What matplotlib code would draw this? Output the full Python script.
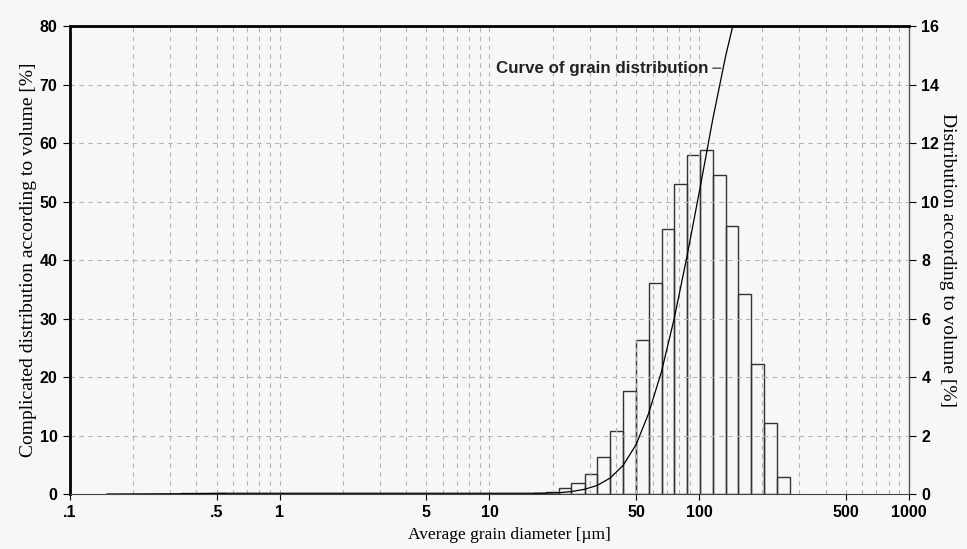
import matplotlib
matplotlib.use("Agg")
import matplotlib.pyplot as plt
import numpy as np

# class edges [um] and volume fractions [%]
fine_edges = [0.15, 0.2, 0.26, 0.34, 0.45, 0.55]
fine_vol = [0.02, 0.02, 0.02, 0.03, 0.05]

main_edges = [16.2, 18.6, 21.5, 24.6, 28.4, 32.7, 37.7, 43.4, 50.0, 57.3, 66.1,
              76.0, 87.4, 100.8, 115.9, 133.7, 153.8, 177.4, 203.9, 235.1, 270.4]
main_vol = [0.03, 0.07, 0.2, 0.38, 0.68, 1.27, 2.17, 3.52, 5.27, 7.22, 9.07,
            10.61, 11.6, 11.76, 10.92, 9.15, 6.85, 4.46, 2.43, 0.58]

xticks = [0.1, 0.5, 1, 5, 10, 50, 100, 500, 1000]
xticklabels = [".1", ".5", "1", "5", "10", "50", "100", "500", "1000"]

bg = "#f7f7f7"
tickfont = dict(family="Liberation Sans", weight="bold", size=11.5)
labelfont = dict(family="Liberation Serif", size=14)

fig = plt.figure(figsize=(9.67, 5.49), dpi=100, facecolor=bg)
ax = fig.add_axes([0.0724, 0.1, 0.8676, 0.8526])
ax2 = ax.twinx()

# bars on right axis
for edges, vol in [(fine_edges, fine_vol), (main_edges, main_vol)]:
    e = np.array(edges)
    ax2.bar(e[:-1], vol, width=np.diff(e), align="edge", fill=False,
            edgecolor="#333333", linewidth=1.0)

# cumulative curve on left axis
fine_cum = np.cumsum(fine_vol)
cum_x = np.concatenate([fine_edges, main_edges])
cum_y = np.concatenate([[0], fine_cum, fine_cum[-1:], fine_cum[-1] + np.cumsum(main_vol)])
ax.plot(cum_x, cum_y, color="black", lw=0.9)

ax.set_zorder(ax2.get_zorder() + 1)
ax.patch.set_visible(False)

ax.set_xscale("log")
ax.set_xlim(0.1, 1000)
ax.set_ylim(0, 80)
ax2.set_ylim(0, 16)

ax.set_xticks(xticks)
ax.set_xticklabels(xticklabels, **tickfont)
minor = [m * 10.0 ** d for d in range(-1, 3) for m in range(2, 10)] + [1, 10, 100]
ax.set_xticks(minor, minor=True)
ax.tick_params(axis="x", which="minor", length=0)
ax.tick_params(axis="x", which="major", length=4, direction="out", pad=4)

ax.set_yticks(range(0, 81, 10))
ax.set_yticklabels([str(v) for v in range(0, 81, 10)], **tickfont)
ax.tick_params(axis="y", length=5, direction="out", pad=4)
ax2.set_yticks(range(0, 17, 2))
ax2.set_yticklabels([str(v) for v in range(0, 17, 2)], **tickfont)
ax2.tick_params(axis="y", length=5, direction="out", pad=4)

ax.grid(True, which="both", axis="x", color="#b4b4b4", lw=0.8, linestyle=(0, (4, 4)))
ax.grid(True, which="major", axis="y", color="#b4b4b4", lw=0.8, linestyle=(0, (4, 4)))

ax.spines["left"].set_linewidth(2)
ax.spines["top"].set_linewidth(2)
ax.spines["bottom"].set_color("#444444")
ax.spines["right"].set_visible(False)
ax2.spines["left"].set_visible(False)
ax2.spines["top"].set_visible(False)
ax2.spines["bottom"].set_visible(False)
ax2.spines["right"].set_color("#555555")
ax2.spines["right"].set_linewidth(1)

ax.set_xlabel("Average grain diameter [\u00b5m]", labelpad=5, family="Liberation Serif", size=12.5)
ax.xaxis.label.set_x(0.524)
ax.set_ylabel("Complicated distribution according to volume [%]", labelpad=2, **labelfont)
ax2.set_ylabel("Distribution according to volume [%]", rotation=270, labelpad=12, **labelfont)

ax.annotate("Curve of grain distribution", xy=(127, 72.8), xytext=(-9, 0),
            textcoords="offset points", ha="right", va="center", color="#222222",
            arrowprops=dict(arrowstyle="-", lw=0.8, color="#222222", shrinkA=1, shrinkB=0),
            family="Liberation Sans", weight="bold", size=12.2)

fig.savefig("out.png", dpi=100, facecolor=bg)
